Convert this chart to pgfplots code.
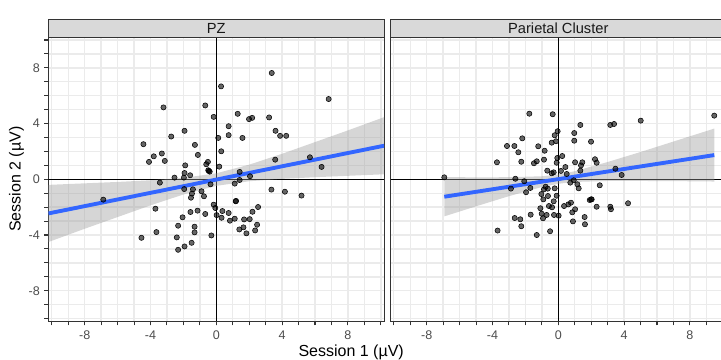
\documentclass[border=0pt]{standalone}
\usepackage{fontspec}
\setmainfont{Liberation Sans}
\usepackage{pgfplots}
\usepackage{pgfplotstable}
\pgfplotsset{compat=1.18}
\definecolor{gridc}{HTML}{EBEBEB}
\definecolor{bord}{HTML}{333333}
\definecolor{ticklab}{HTML}{4D4D4D}
\definecolor{stripc}{HTML}{D9D9D9}
\definecolor{smoothblue}{HTML}{3366FF}
\definecolor{bandc}{HTML}{999999}

\pgfplotstableread{
x y
-3.21 5.16
-0.67 5.30
-0.16 4.48
-1.93 3.48
-2.74 3.07
-4.43 2.52
-1.30 2.47
-3.31 1.85
-3.80 1.65
-1.12 1.75
-4.09 1.25
-3.13 1.32
-0.51 1.25
-1.89 1.00
-0.61 1.08
-0.49 0.65
-0.40 0.55
-0.45 0.60
-1.93 0.45
-1.59 0.29
-2.54 0.12
-1.97 0.12
-3.43 -0.24
-1.95 -0.70
-1.42 -0.72
-0.90 -0.86
-1.48 -1.03
-0.75 -1.22
-1.54 -1.32
-0.35 -0.36
-6.87 -1.46
-0.16 -1.82
-0.06 -2.06
-3.70 -2.11
-1.57 -2.35
-1.14 -2.25
-0.67 -2.49
-2.05 -2.73
-2.32 -3.33
-1.32 -3.40
-3.64 -3.79
-1.32 -3.81
-0.30 -4.03
-4.55 -4.20
-2.40 -4.17
-1.50 -4.56
-1.93 -4.82
-2.32 -5.06
3.37 7.63
0.29 6.67
6.83 5.76
1.30 4.70
1.99 4.32
2.18 4.41
3.21 4.44
0.75 3.81
3.60 3.48
3.88 3.12
4.25 3.12
0.75 3.17
0.12 2.97
1.59 2.97
0.30 2.01
3.58 1.41
5.69 1.58
0.18 0.91
6.40 0.89
1.42 0.53
2.05 0.22
1.42 -0.05
1.12 -0.31
3.35 -0.74
4.17 -0.89
5.18 -1.17
1.18 -1.58
1.20 -1.55
0.37 -2.28
0.75 -2.42
2.54 -1.99
2.20 -2.33
0.32 -2.76
0.83 -2.97
1.12 -2.83
1.69 -2.88
2.03 -2.86
2.48 -3.26
1.65 -3.45
1.40 -3.60
2.36 -3.67
1.83 -3.88
0.02 -2.57
}\pzdata

\pgfplotstableread{
x y
-1.76 4.71
-0.34 4.67
1.34 3.90
-0.04 3.45
-0.22 3.16
0.97 3.32
-2.19 2.94
-0.14 2.73
-0.40 2.63
0.97 2.77
-3.12 2.39
-2.67 2.39
-1.22 2.37
-2.43 1.94
-0.83 2.05
0.24 1.67
-0.06 1.53
-0.87 1.41
-2.25 1.26
-1.31 1.29
-1.48 1.15
-3.73 1.22
-0.10 1.19
1.02 1.22
1.46 1.22
1.38 1.00
0.43 0.88
-0.67 0.62
-0.40 0.43
-0.28 0.50
0.16 0.60
0.51 0.38
1.34 0.62
-2.61 0.04
-2.07 -0.14
0.73 -0.24
0.94 -0.07
1.16 -0.36
1.24 -0.65
-2.88 -0.67
-1.70 -0.62
-0.77 -0.53
-0.64 -0.67
-0.87 -0.72
-1.96 -0.93
-1.03 -1.06
-0.63 -1.20
-0.10 -1.18
-0.91 -1.44
-0.28 -1.58
1.91 -1.49
-0.57 -1.92
-0.38 -2.01
-1.09 -2.08
0.35 -1.92
0.61 -1.80
0.77 -1.68
1.02 -2.15
0.85 -2.37
-1.01 -2.47
-1.68 -2.54
-0.71 -2.56
-0.26 -2.56
0.02 -2.61
-0.93 -2.80
1.60 -2.71
-2.65 -2.78
-2.31 -2.87
0.89 -3.02
1.62 -3.23
-2.25 -3.37
-3.69 -3.68
-0.50 -3.73
-1.31 -4.00
-6.93 0.14
3.16 3.90
3.39 3.97
5.01 4.21
9.48 4.57
1.99 2.70
2.23 1.44
2.33 1.19
3.47 0.76
3.85 0.31
2.52 -0.43
1.99 -1.44
2.03 -1.44
2.33 -1.97
3.16 -1.97
3.20 -2.15
4.24 -1.72
-0.22 -0.65
}\pcdata

\pgfplotsset{
  panel/.style={
    scale only axis, width=251.7pt, height=213.15pt,
    xmin=-10.2, xmax=10.2, ymin=-10.2, ymax=10.2,
    xtick={-8,-4,0,4,8}, ytick={-8,-4,0,4,8},
    minor xtick={-10,-9,...,10}, minor ytick={-10,-9,...,10},
    grid=both,
    major grid style={color=gridc, line width=1.05pt},
    minor grid style={color=gridc, line width=1.05pt},
    tick align=outside, major tick length=3pt, minor tick length=3pt,
    every tick/.style={color=bord, line width=0.8pt},
    axis line style={color=bord, line width=0.8pt},
    xtick pos=bottom, ytick pos=left,
    ticklabel style={font=\fontsize{9.4}{11}\selectfont, text=ticklab},
    xticklabel style={yshift=-0.5pt},
    /pgf/number format/assume math mode=true,
  },
  pts/.style={only marks, mark=*, mark size=1.95pt,
    mark options={draw=none, fill=black, fill opacity=0.6}},
  zl/.style={black, line width=0.85pt},
  bnd/.style={fill=bandc, fill opacity=0.4, draw=none},
  fitline/.style={color=smoothblue, line width=2.9pt},
}

\begin{document}
\begin{tikzpicture}
% ---------- PZ ----------
\begin{axis}[panel, name=L]
  \addplot[zl] coordinates {(-10.2,0) (10.2,0)};
  \addplot[zl] coordinates {(0,-10.2) (0,10.2)};
  \addplot[pts] table[x=x,y=y] {\pzdata};
  \addplot[bnd] coordinates {
    (-10.2,-0.40) (-8,-0.29) (-6,-0.19) (-4,-0.07) (-2,0.10) (0,0.43) (2,1.05) (4,1.83) (6,2.67) (8,3.51) (10.2,4.46)
    (10.2,0.36) (8,0.25) (6,0.15) (4,0.03) (2,-0.14) (0,-0.47) (-2,-1.09) (-4,-1.87) (-6,-2.71) (-8,-3.55) (-10.2,-4.50)} -- cycle;
  \addplot[fitline] coordinates {(-10.2,-2.45) (10.2,2.41)};
\end{axis}
% ---------- Parietal Cluster ----------
\begin{axis}[panel, name=R, at={(256.5pt,0pt)}, yticklabels={}, ytick style={draw=none}]
  \addplot[zl] coordinates {(-10.2,0) (10.2,0)};
  \addplot[zl] coordinates {(0,-10.2) (0,10.2)};
  \addplot[pts] table[x=x,y=y] {\pcdata};
  \addplot[bnd] coordinates {
    (-6.93,0.16) (-5,0.14) (-3,0.15) (-1,0.217) (0,0.345) (1,0.58) (3,1.24) (5,1.96) (7,2.71) (9.48,3.64)
    (9.48,-0.16) (7,-0.13) (5,-0.12) (3,-0.12) (1,-0.19) (0,-0.32) (-1,-0.555) (-3,-1.21) (-5,-1.94) (-6.93,-2.66)} -- cycle;
  \addplot[fitline] coordinates {(-6.93,-1.25) (9.48,1.738)};
\end{axis}
% strips
\foreach \ax/\lab in {L/PZ, R/Parietal Cluster}{
  \draw[fill=stripc, draw=bord, line width=0.8pt] (\ax.north west) rectangle ([yshift=13pt]\ax.north east);
  \node[font=\fontsize{11}{13}\selectfont, text=black!90, inner sep=0pt] at ([yshift=6.5pt]\ax.north) {\lab};
}
% axis titles
\node[font=\fontsize{12}{14}\selectfont, anchor=center] at (227pt,-23pt) {Session 1 (µV)};
\node[font=\fontsize{12}{14}\selectfont, anchor=center, rotate=90] at (-24pt,106.6pt) {Session 2 (µV)};
\pgfresetboundingbox
\path[use as bounding box] (-36.375pt,-28.95pt) rectangle (504.375pt,241.05pt);
\end{tikzpicture}
\end{document}
